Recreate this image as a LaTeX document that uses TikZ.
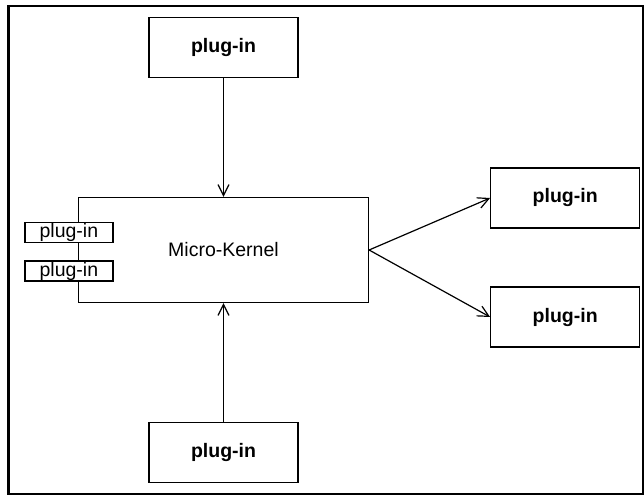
\documentclass[tikz,border=0pt]{standalone}
\usepackage{fontspec}
\setmainfont{Liberation Sans}
\usetikzlibrary{positioning,arrows.meta}

\begin{document}
	\begin{tikzpicture}[
		x=1pt, y=1pt,
		every node/.style={
			draw, rectangle,
			align=center,
			line width=1.2pt
		},
		plugin/.style={
			minimum width=149pt,
			minimum height=60pt,
			font=\fontsize{19.5}{23}\selectfont\bfseries
		},
		kernelbox/.style={
			minimum width=290pt,
			minimum height=105pt,
			font=\fontsize{19.5}{23}\selectfont
		},
		slot/.style={
			fill=white,
			inner sep=0pt,
			minimum width=88pt,
			minimum height=20pt,
			font=\fontsize{19.5}{20}\selectfont
		},
		link/.style={draw, line width=1.2pt, -{Straight Barb[length=11pt,width=11pt,line width=1.2pt]}}
		]
		
		\useasboundingbox (0,0) rectangle (644,-497);
		\draw[line width=2.6pt] (8.5,-6) rectangle (642.8,-494);
		
		\node[kernelbox] (kernel) at (223.5,-250) {Micro-Kernel};
		\node[plugin, above=119pt of kernel] (top) {plug-in};
		\node[plugin, below=119pt of kernel] (bottom) {plug-in};
		\node[plugin, right=121pt of kernel, yshift=52pt] (right1) {plug-in};
		\node[plugin, right=121pt of kernel, yshift=-67pt] (right2) {plug-in};
		
		% plug-ins sitting on the kernel's edge
		\node[slot] (slot1) at ([xshift=-9pt, yshift=17.5pt]kernel.west) {plug-in};
		\node[slot] (slot2) at ([xshift=-9pt, yshift=-21pt]kernel.west) {plug-in};
		
		\draw[link] (top) -- (kernel);
		\draw[link] (bottom) -- (kernel);
		\draw[link] (kernel.east) -- (right1.west);
		\draw[link] (kernel.east) -- (right2.west);
	\end{tikzpicture}
\end{document}
